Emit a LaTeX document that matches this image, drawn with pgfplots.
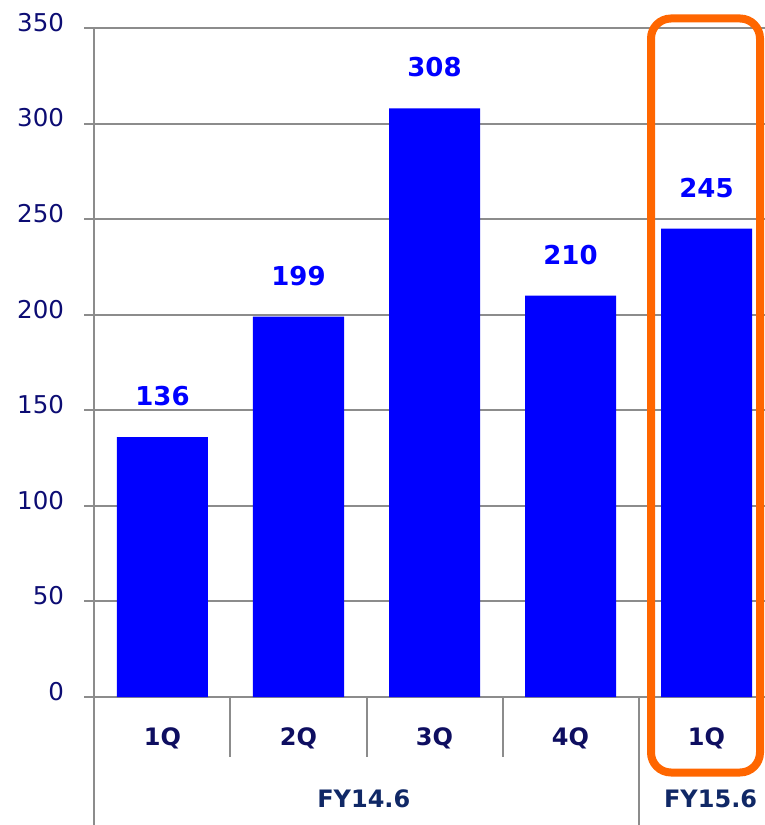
\documentclass[border=0pt]{standalone}
\usepackage{pgfplots}
\pgfplotsset{compat=1.18}
\usepackage{fontspec}
\setmainfont{DejaVu Sans}
\definecolor{barblue}{RGB}{0,0,255}
\definecolor{ticknavy}{RGB}{12,12,115}
\definecolor{catnavy}{RGB}{14,14,96}
\definecolor{grpnavy}{RGB}{16,40,102}
\definecolor{gridgray}{RGB}{140,140,140}
\definecolor{hiorange}{RGB}{255,102,0}
\begin{document}
\begin{tikzpicture}
\begin{axis}[
  at={(0,0)}, anchor=origin,
  x=136pt, y=1.91143pt,
  xmin=-0.5, xmax=4.45,
  ymin=0, ymax=350,
  ytick={0,50,...,350},
  xtick={0,1,2,3,4},
  xticklabels={1Q,2Q,3Q,4Q,1Q},
  axis line style={draw=none},
  ymajorgrids,
  grid style={gridgray, line width=2pt},
  tick align=outside,
  ytick pos=left,
  major tick length=10pt,
  ytick style={gridgray, line width=2pt},
  xtick style={draw=none},
  /pgf/number format/assume math mode=true,
  yticklabel style={font=\fontsize{24.5}{29}\selectfont, text=ticknavy, anchor=base east, yshift=-3.3pt, xshift=-17pt},
  xticklabel style={font=\fontsize{24}{29}\selectfont\bfseries, text=catnavy, anchor=base, yshift=-38.5pt},
  clip=false,
  ybar, bar width=91pt, bar shift=0pt,
  nodes near coords,
  nodes near coords style={font=\fontsize{26}{31}\selectfont\bfseries, text=barblue, anchor=base, yshift=31.5pt},
]
\addplot[fill=barblue, draw=none] coordinates {(0,136) (1,199) (2,308) (3,210) (4,245)};
\draw[gridgray, line width=2pt] (axis cs:-0.5,350) -- (axis cs:-0.5,-70);
\draw[gridgray, line width=2pt] (axis cs:0.5,0) -- (axis cs:0.5,-31.4);
\draw[gridgray, line width=2pt] (axis cs:1.5,0) -- (axis cs:1.5,-31.4);
\draw[gridgray, line width=2pt] (axis cs:2.5,0) -- (axis cs:2.5,-31.4);
\draw[gridgray, line width=2pt] (axis cs:3.5,0) -- (axis cs:3.5,-70);
\node[anchor=base, font=\fontsize{24}{29}\selectfont\bfseries, text=grpnavy] at (axis cs:1.48,-57.9) {FY14.6};
\node[anchor=base, font=\fontsize{24}{29}\selectfont\bfseries, text=grpnavy] at (axis cs:4.03,-57.9) {FY15.6};
\end{axis}
\draw[hiorange, line width=8pt, rounded corners=20pt] (488.5pt,678.5pt) rectangle (597.5pt,-75.5pt);
\pgfresetboundingbox
\useasboundingbox (-162.5pt,-128pt) rectangle (602.5pt,697pt);
\end{tikzpicture}
\end{document}
